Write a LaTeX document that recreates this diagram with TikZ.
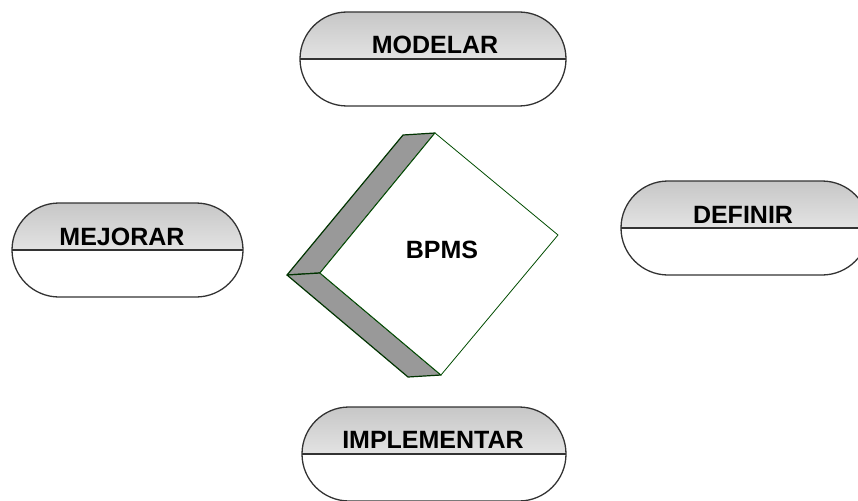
\documentclass[tikz,border=0pt]{standalone}
\usepackage{fontspec}
\setmainfont{Liberation Sans}
\usetikzlibrary{shapes.misc}
\begin{document}
\begin{tikzpicture}[x=1pt,y=-1pt,
 stadium/.style={rounded rectangle, draw=black!80, line width=1.3pt, minimum height=94pt, inner sep=0pt,
   path picture={\shade[top color=black!22,bottom color=white] (path picture bounding box.north west) rectangle (path picture bounding box.east);
     \draw[line width=2pt, black!80] (path picture bounding box.west) -- (path picture bounding box.east);}},
 lbl/.style={font=\fontsize{25}{30}\selectfont\bfseries, anchor=base, inner sep=0pt},
 side/.style={fill=black!40, draw=green!20!black, line width=1.2pt, line join=round},
 face/.style={fill=white, draw=green!30!black, line width=0.8pt, line join=round}]
\useasboundingbox (0,0) rectangle (858,500);
% stadiums
\node[stadium, minimum width=266pt] (modelar) at (433,59) {};
\node[stadium, minimum width=248pt] (definir) at (745,228) {};
\node[stadium, minimum width=231pt] (mejorar) at (127.5,250) {};
\node[stadium, minimum width=264pt] (implementar) at (434,454) {};
\node[lbl] (tmodelar) at (435,54) {MODELAR};
\node[lbl] (tdefinir) at (743,223) {DEFINIR};
\node[lbl] (tmejorar) at (122,245) {MEJORAR};
\node[lbl] (timplementar) at (433,448) {IMPLEMENTAR};
% 3D diamond
\coordinate (ft) at (435,133);
\coordinate (fr) at (558,235);
\coordinate (fb) at (441,375);
\coordinate (fl) at (320,273);
\coordinate (bt) at (403,135);
\coordinate (bl) at (287,275);
\coordinate (bb) at (408,377);
\draw[side] (bt) -- (ft) -- (fl) -- (bl) -- cycle;
\draw[side] (bl) -- (fl) -- (fb) -- (bb) -- cycle;
\draw[face] (ft) -- (fr) -- (fb) -- (fl) -- cycle;
\node[font=\fontsize{25}{30}\selectfont\bfseries, inner sep=0pt] (bpms) at (442,250) {BPMS};
\end{tikzpicture}
\end{document}
